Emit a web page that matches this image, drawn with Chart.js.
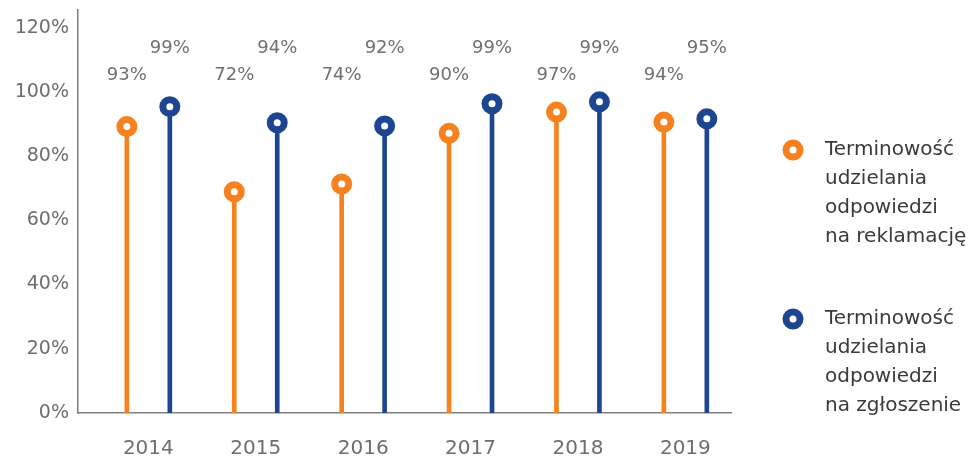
<!DOCTYPE html>
<html>
<head>
<meta charset="utf-8">
<script src="https://cdn.jsdelivr.net/npm/chart.js@4"></script>
<style>
  html, body { margin: 0; padding: 0; background: #ffffff; }
  #wrap { position: relative; width: 970px; height: 458px; }
</style>
</head>
<body>
<div id="wrap"><canvas id="c" width="970" height="458"></canvas></div>
<script>
// ---- data ----
const years = ['2014', '2015', '2016', '2017', '2018', '2019'];
// marker heights as drawn in the picture (%)
const reklamacjeValues = [89.2, 68.9, 71.3, 87.1, 93.7, 90.6];
const zgloszeniaValues = [95.4, 90.4, 89.4, 96.3, 96.9, 91.6];
// value labels printed above the markers
const reklamacjeLabels = ['93%', '72%', '74%', '90%', '97%', '94%'];
const zgloszeniaLabels = ['99%', '94%', '92%', '99%', '99%', '95%'];
const yTicks = [0, 20, 40, 60, 80, 100, 120];
const legendReklamacje = ['Terminowość', 'udzielania', 'odpowiedzi', 'na reklamację'];
const legendZgloszenia = ['Terminowość', 'udzielania', 'odpowiedzi', 'na zgłoszenie'];

const ORANGE = '#F5821F';
const BLUE = '#1E4590';
const FONT = '"DejaVu Sans", "Open Sans", sans-serif';

const OFF = 0.2;
const pts = (vals, off) => vals.map((v, i) => ({ x: i + off, y: v }));

const labelsPlugin = {
  id: 'valueLabels',
  afterDatasetsDraw(chart) {
    const ctx = chart.ctx;
    const xs = chart.scales.x, ys = chart.scales.y;
    ctx.save();
    ctx.font = '18px ' + FONT;
    ctx.fillStyle = '#707070';
    ctx.textAlign = 'center';
    ctx.textBaseline = 'middle';
    years.forEach((_, i) => {
      ctx.fillText(reklamacjeLabels[i], xs.getPixelForValue(i - OFF), ys.getPixelForValue(105.3));
      ctx.fillText(zgloszeniaLabels[i], xs.getPixelForValue(i + OFF), ys.getPixelForValue(113.6));
    });
    ctx.restore();
  }
};

const legendPlugin = {
  id: 'sideLegend',
  afterDraw(chart) {
    const ctx = chart.ctx;
    const groups = [
      { color: ORANGE, lines: legendReklamacje, y: 150 },
      { color: BLUE, lines: legendZgloszenia, y: 319 }
    ];
    ctx.save();
    groups.forEach(g => {
      ctx.beginPath();
      ctx.arc(793, g.y, 7, 0, Math.PI * 2);
      ctx.fillStyle = '#ffffff';
      ctx.fill();
      ctx.lineWidth = 7;
      ctx.strokeStyle = g.color;
      ctx.stroke();
      ctx.font = '20px ' + FONT;
      ctx.fillStyle = '#3a3a3a';
      ctx.textAlign = 'left';
      ctx.textBaseline = 'middle';
      g.lines.forEach((t, k) => ctx.fillText(t, 825, g.y + k * 29));
    });
    ctx.restore();
  }
};

new Chart(document.getElementById('c'), {
  type: 'bar',
  data: {
    datasets: [
      { type: 'bar', label: 'Terminowość udzielania odpowiedzi na reklamację', data: pts(reklamacjeValues, -OFF),
        backgroundColor: ORANGE, barThickness: 4, grouped: false, order: 2 },
      { type: 'bar', label: 'Terminowość udzielania odpowiedzi na zgłoszenie', data: pts(zgloszeniaValues, OFF),
        backgroundColor: BLUE, barThickness: 4, grouped: false, order: 2 },
      { type: 'line', label: 'r', data: pts(reklamacjeValues, -OFF), showLine: false,
        pointRadius: 7, pointHoverRadius: 7, pointBorderWidth: 7, pointBackgroundColor: '#ffffff',
        pointBorderColor: ORANGE, order: 1, clip: false },
      { type: 'line', label: 'z', data: pts(zgloszeniaValues, OFF), showLine: false,
        pointRadius: 7, pointHoverRadius: 7, pointBorderWidth: 7, pointBackgroundColor: '#ffffff',
        pointBorderColor: BLUE, order: 1, clip: false }
    ]
  },
  options: {
    responsive: false,
    animation: false,
    events: [],
    layout: { autoPadding: false, padding: { left: 0, right: 239, top: 10, bottom: 0 } },
    plugins: { legend: { display: false }, tooltip: { enabled: false } },
    scales: {
      x: {
        type: 'linear',
        min: -0.655,
        max: 5.425,
        offset: false,
        grid: { display: false, drawTicks: false },
        border: { display: true, color: '#808080', width: 1.5 },
        afterBuildTicks: s => { s.ticks = years.map((_, i) => ({ value: i })); },
        afterFit: s => { s.height = 45; s.paddingLeft = 0; s.paddingRight = 0; },
        ticks: {
          autoSkip: false,
          maxRotation: 0,
          padding: 24,
          color: '#6e6e6e',
          font: { family: FONT, size: 20 },
          callback: v => years[Math.round(v)] ?? ''
        }
      },
      y: {
        min: 0,
        max: 125.5,
        grid: { display: false, drawTicks: false },
        border: { display: true, color: '#808080', width: 1.5 },
        afterBuildTicks: s => { s.ticks = yTicks.map(v => ({ value: v })); },
        afterFit: s => { s.width = 78; s.paddingTop = 0; s.paddingBottom = 0; },
        ticks: {
          padding: 9,
          color: '#6e6e6e',
          font: { family: FONT, size: 19 },
          callback: v => v + '%'
        }
      }
    }
  },
  plugins: [labelsPlugin, legendPlugin]
});
</script>
</body>
</html>
